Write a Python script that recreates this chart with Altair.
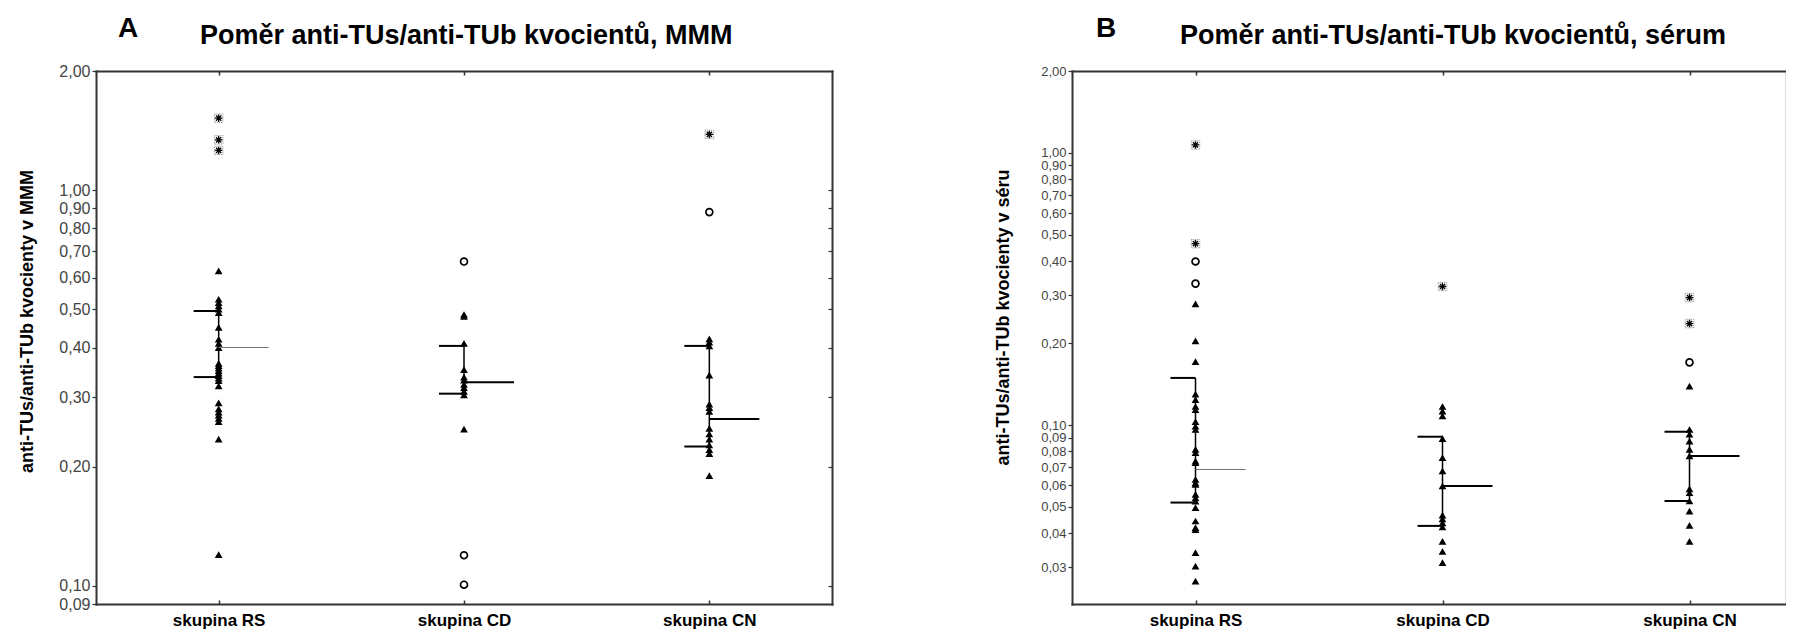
import altair as alt
import pandas as pd

GROUPS = ["skupina RS", "skupina CD", "skupina CN"]

# ---------------- Panel A : MMM ----------------
A_LETTER = "A"
A_TITLE = "Poměr anti-TUs/anti-TUb kvocientů, MMM"
A_YTITLE = "anti-TUs/anti-TUb kvocienty v MMM"
A_TICKS = [2.0, 1.0, 0.9, 0.8, 0.7, 0.6, 0.5, 0.4, 0.3, 0.2, 0.1, 0.09]
A_YDOMAIN = [0.09, 2.0]

A_RS_TRI = [0.625, 0.53, 0.52, 0.51, 0.50, 0.49, 0.45, 0.42, 0.41, 0.40, 0.365, 0.36,
            0.355, 0.35, 0.345, 0.34, 0.335, 0.33, 0.32, 0.29, 0.28, 0.275, 0.27, 0.265,
            0.26, 0.235, 0.12]
A_RS_CIRC = []
A_RS_AST = [1.52, 1.34, 1.26]

A_CD_TRI = [0.485, 0.48, 0.41, 0.352, 0.337, 0.331, 0.323, 0.317, 0.31, 0.304, 0.249]
A_CD_CIRC = [0.66, 0.1195, 0.1007]
A_CD_AST = []

A_CN_TRI = [0.421, 0.413, 0.404, 0.341, 0.288, 0.282, 0.276, 0.25, 0.242, 0.235, 0.227,
            0.221, 0.216, 0.19]
A_CN_CIRC = [0.88]
A_CN_AST = [1.383]

A_Q1 = [0.337, 0.306, 0.225]
A_MED = [0.400, 0.327, 0.264]
A_Q3 = [0.495, 0.404, 0.404]

# ---------------- Panel B : serum ----------------
B_LETTER = "B"
B_TITLE = "Poměr anti-TUs/anti-TUb kvocientů, sérum"
B_YTITLE = "anti-TUs/anti-TUb kvocienty v séru"
B_TICKS = [2.0, 1.0, 0.9, 0.8, 0.7, 0.6, 0.5, 0.4, 0.3, 0.2, 0.1, 0.09, 0.08, 0.07,
           0.06, 0.05, 0.04, 0.03]
B_YDOMAIN = [0.022, 2.0]

B_RS_TRI = [0.279, 0.204, 0.171, 0.130, 0.124, 0.117, 0.114, 0.103, 0.099, 0.0963,
            0.0814, 0.0792, 0.0737, 0.0727, 0.0631, 0.0613, 0.0605, 0.0556, 0.054,
            0.0525, 0.0497, 0.0444, 0.042, 0.0413, 0.034, 0.0303, 0.0267]
B_RS_CIRC = [0.399, 0.331]
B_RS_AST = [1.07, 0.464]

B_CD_TRI = [0.117, 0.1125, 0.108, 0.0891, 0.0759, 0.0678, 0.0597, 0.0467, 0.0452,
            0.0437, 0.0422, 0.0374, 0.0343, 0.0312]
B_CD_CIRC = []
B_CD_AST = [0.323]

B_CN_TRI = [0.139, 0.0963, 0.0925, 0.0873, 0.0814, 0.077, 0.0583, 0.0564, 0.0526,
            0.0483, 0.0428, 0.0374]
B_CN_CIRC = [0.170]
B_CN_AST = [0.294, 0.236]

B_Q1 = [0.0519, 0.0426, 0.0526]
B_MED = [0.0687, 0.0597, 0.0769]
B_Q3 = [0.149, 0.0906, 0.0945]

FONT = "Liberation Sans"
BORDER = "#333333"
STAR = "M-1,0L1,0M0,-1L0,1M-0.7,-0.7L0.7,0.7M-0.7,0.7L0.7,-0.7"


def points_frame(tri, circ, ast):
    rows = []
    for gi, g in enumerate(GROUPS):
        for v in tri[gi]:
            rows.append({"g": g, "gi": gi, "v": v, "kind": "tri"})
        for v in circ[gi]:
            rows.append({"g": g, "gi": gi, "v": v, "kind": "circ"})
        for v in ast[gi]:
            rows.append({"g": g, "gi": gi, "v": v, "kind": "ast"})
    return pd.DataFrame(rows)


def summary_frame(q1, med, q3):
    return pd.DataFrame({"g": GROUPS, "gi": list(range(len(GROUPS))),
                         "q1": q1, "med": med, "q3": q3})


def panel(letter, title, ytitle, pts, summ, ticks, ydomain, width, xmax,
          right_border, letter_x, title_x, ytitle_y, label_size):
    height = 533
    ysc = alt.Scale(type="log", domain=ydomain, nice=False)
    xsc = alt.Scale(domain=[-0.5, xmax], nice=False, zero=False)
    ylab = "replace(format(datum.value, '.2f'), '.', ',')"
    xlab = "[" + ",".join("'%s'" % g for g in GROUPS) + "][datum.value]"
    inner = [t for t in ticks if ydomain[0] < t < ydomain[1]]

    x_bottom = alt.Axis(orient="bottom", values=[0, 1, 2], labelExpr=xlab, ticks=False,
                        domain=True, domainColor=BORDER, domainWidth=2, domainCap="square",
                        labelFont=FONT, labelFontSize=17, labelFontWeight="bold",
                        labelColor="#000000", labelPadding=8, grid=False, title=None,
                        labelFlush=False, labelOverlap=False)
    x_bottom_ticks = alt.Axis(orient="bottom", offset=-4, values=[0, 1, 2], labels=False,
                              domain=False, ticks=True, tickSize=4, tickColor=BORDER,
                              tickWidth=1.5, grid=False, title=None)
    x_top = alt.Axis(orient="top", values=[0, 1, 2], labels=False, ticks=False,
                     domain=True, domainColor=BORDER, domainWidth=2, domainCap="square",
                     grid=False, title=None)
    x_top_ticks = alt.Axis(orient="top", offset=-4, values=[0, 1, 2], labels=False,
                           domain=False, ticks=True, tickSize=4, tickColor=BORDER,
                           tickWidth=1.5, grid=False, title=None)
    y_left = alt.Axis(orient="left", values=ticks, labelExpr=ylab, tickSize=4,
                      tickColor=BORDER, tickWidth=1.2, domain=True, domainColor=BORDER,
                      domainWidth=2, domainCap="square", labelFont=FONT,
                      labelFontSize=label_size, labelColor="#444444", labelPadding=2,
                      labelOverlap=False, labelBound=False, grid=False, title=ytitle,
                      titleFont=FONT, titleFontSize=18, titleFontWeight="bold",
                      titleColor="#000000", titleAngle=270, titleBaseline="bottom",
                      titleAlign="center", titleX=-60, titleY=ytitle_y)
    y_right = alt.Axis(orient="right", values=ticks, labels=False, ticks=False,
                       domain=True, domainColor=BORDER, domainWidth=2, domainCap="square",
                       grid=False, title=None)
    y_right_ticks = alt.Axis(orient="right", offset=-4, values=inner, labels=False,
                             domain=False, ticks=True, tickSize=4, tickColor=BORDER,
                             tickWidth=1.2, grid=False, title=None)

    base = alt.Chart(pts)

    def X(axis):
        return alt.X("gi:Q", scale=xsc, axis=axis)

    def Y(field="v", axis=None):
        return alt.Y(field + ":Q", scale=ysc, axis=axis)

    tri = base.transform_filter(alt.datum.kind == "tri").mark_point(
        shape="triangle-up", filled=True, size=60, color="#000000", opacity=1
    ).encode(x=X(x_bottom), y=Y("v", y_left))

    circ = base.transform_filter(alt.datum.kind == "circ").mark_point(
        shape="circle", filled=False, size=48, strokeWidth=1.7, color="#000000", opacity=1
    ).encode(x=X(x_bottom_ticks), y=Y("v", y_right if right_border else None))

    ast_sq = base.transform_filter(alt.datum.kind == "ast").mark_point(
        shape="square", filled=False, size=72, strokeWidth=1, color="#888888",
        strokeDash=[1, 1], opacity=1
    ).encode(x=X(x_top), y=Y("v", y_right_ticks if right_border else None))

    ast_star = base.transform_filter(alt.datum.kind == "ast").mark_point(
        shape=STAR, filled=False, size=56, strokeWidth=1.3, color="#000000", opacity=1
    ).encode(x=X(x_top_ticks), y=Y("v", None))

    sb = alt.Chart(summ)
    vline = sb.mark_rule(color="#000000", strokeWidth=1.5).encode(
        x=X(None), y=Y("q1", None), y2="q3:Q")
    q1t = sb.mark_tick(orient="horizontal", size=25, thickness=2, xOffset=-12.5,
                       color="#000000", opacity=1).encode(x=X(None), y=Y("q1", None))
    q3t = sb.mark_tick(orient="horizontal", size=25, thickness=2, xOffset=-12.5,
                       color="#000000", opacity=1).encode(x=X(None), y=Y("q3", None))
    med = sb.transform_filter(alt.datum.gi > 0).mark_tick(
        orient="horizontal", size=50, thickness=2, xOffset=25, color="#000000", opacity=1
    ).encode(x=X(None), y=Y("med", None))
    med_rs = sb.transform_filter(alt.datum.gi == 0).mark_tick(
        orient="horizontal", size=50, thickness=1, xOffset=25, color="#777777", opacity=1
    ).encode(x=X(None), y=Y("med", None))

    let = alt.Chart(pd.DataFrame({"t": [letter]})).mark_text(
        font=FONT, fontSize=28, fontWeight="bold", align="center", baseline="alphabetic",
        color="#000000"
    ).encode(x=alt.value(letter_x), y=alt.value(-34), text="t:N")
    tit = alt.Chart(pd.DataFrame({"t": [title]})).mark_text(
        font=FONT, fontSize=27, fontWeight="bold", align="left", baseline="alphabetic",
        color="#000000"
    ).encode(x=alt.value(title_x), y=alt.value(-27), text="t:N")

    return alt.layer(tri, circ, ast_sq, ast_star, vline, q1t, q3t, med, med_rs, let, tit
                     ).resolve_axis(x="independent", y="independent"
                     ).properties(width=width, height=height)


ptsA = points_frame([A_RS_TRI, A_CD_TRI, A_CN_TRI], [A_RS_CIRC, A_CD_CIRC, A_CN_CIRC],
                    [A_RS_AST, A_CD_AST, A_CN_AST])
ptsB = points_frame([B_RS_TRI, B_CD_TRI, B_CN_TRI], [B_RS_CIRC, B_CD_CIRC, B_CN_CIRC],
                    [B_RS_AST, B_CD_AST, B_CN_AST])

pA = panel(A_LETTER, A_TITLE, A_YTITLE, ptsA, summary_frame(A_Q1, A_MED, A_Q3),
           A_TICKS, A_YDOMAIN, 736, 2.5, True, 32, 104, 250, 16)
pB = panel(B_LETTER, B_TITLE, B_YTITLE, ptsB, summary_frame(B_Q1, B_MED, B_Q3),
           B_TICKS, B_YDOMAIN, 713, -0.5 + 713 / 247.0, False, 34, 108, 246, 13)

chart = alt.hconcat(pA, pB, spacing=240, bounds="flush").properties(
    padding={"left": 9, "top": 6, "right": 0, "bottom": 0}
).configure_view(strokeOpacity=0).configure(background="#ffffff")

chart.save("out.html", embed_options={"renderer": "svg", "actions": False})
